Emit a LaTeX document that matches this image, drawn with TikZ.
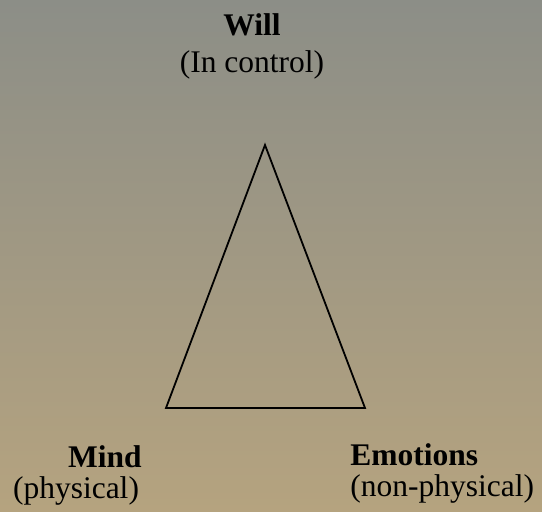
\documentclass[tikz,border=0pt]{standalone}
\usepackage{fontspec}
\setmainfont{Liberation Serif}
\usepackage{xcolor}
\usepackage{tikz}
\definecolor{skygray}{HTML}{8C8E87}
\definecolor{midbeige}{HTML}{A09D88}
\definecolor{sandtan}{HTML}{B5A37F}
\definecolor{inkblack}{HTML}{000000}
\tikzset{
  edge/.style={draw=inkblack, line width=0.9pt, line join=miter},
  head/.style={font=\fontsize{15.75}{18}\selectfont\bfseries, inner sep=0pt, text=inkblack},
  sub/.style={font=\fontsize{15.75}{18}\selectfont, inner sep=0pt, text=inkblack}
}
\begin{document}
\begin{tikzpicture}[x=0.5pt,y=0.5pt]
  \path[use as bounding box] (0,0) rectangle (542,511);
  \shade[top color=skygray, middle color=midbeige, bottom color=sandtan] (0,0) rectangle (542,511);

  \coordinate (apex) at (265,366);
  \coordinate (left) at (166,103);
  \coordinate (right) at (365,103);
  \draw[edge] (apex) -- (left) -- (right) -- cycle;

  \node[head, anchor=base] (will) at (252,476) {Will};
  \node[sub, anchor=base] (willsub) at (252,439) {(In control)};

  \node[head, anchor=base] (mind) at (105,44) {Mind};
  \node[sub, anchor=base] (mindsub) at (76,13) {(physical)};

  \node[head, anchor=base west] (emo) at (350,46) {Emotions};
  \node[sub, anchor=base west] (emosub) at (350,15) {(non-physical)};
\end{tikzpicture}
\end{document}
